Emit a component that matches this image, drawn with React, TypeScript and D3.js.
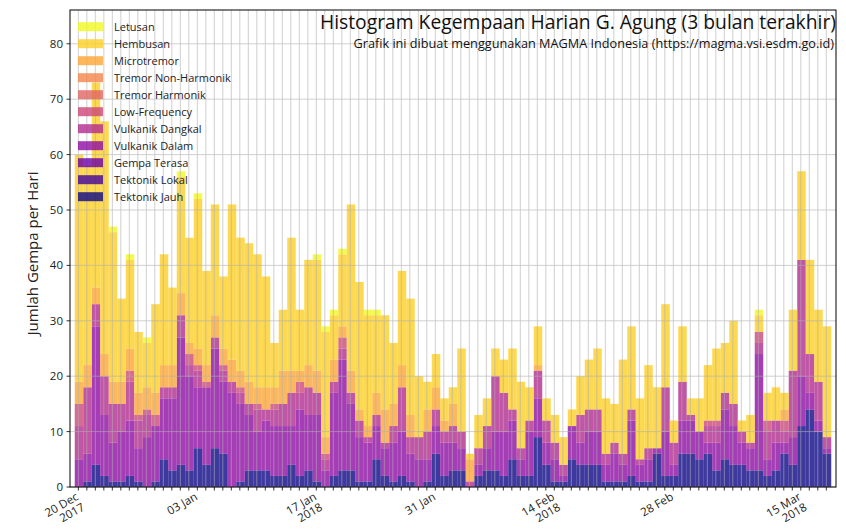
import * as d3 from 'd3'

// daily counts, 20 Dec 2017 .. 18 Mar 2018
const startDate = new Date(2017, 11, 20)
const dayCount = 89

const tektonikJauh = [0,1,4,2,1,1,2,1,0,1,5,3,4,3,7,4,7,6,0,1,3,3,3,2,2,4,2,3,1,0,2,3,3,1,1,5,2,1,2,1,0,1,6,2,3,3,0,2,3,3,2,5,2,2,9,4,1,1,5,4,4,4,1,1,1,2,1,1,6,2,2,6,6,5,6,3,5,4,4,3,3,2,3,6,4,11,14,10,6]
const vulkanikDalam = [5,5,25,11,7,9,10,6,9,10,11,13,23,17,11,14,18,13,17,14,10,7,9,9,9,7,12,10,12,3,15,20,12,8,7,6,5,7,8,5,5,4,5,6,5,4,0,2,4,7,8,7,3,8,7,4,4,1,6,4,6,6,3,5,3,10,3,4,1,8,2,6,6,5,2,5,9,7,4,4,21,3,5,2,5,9,3,2,1]
const vulkanikDangkal = [6,12,4,7,7,5,7,5,4,0,2,2,4,2,3,0,2,2,2,2,2,4,2,3,4,6,3,5,4,2,2,2,2,3,1,2,1,3,8,3,4,5,3,2,3,3,1,3,4,10,7,2,2,2,5,4,3,2,0,5,4,4,2,2,2,2,1,2,0,8,4,7,1,0,3,3,3,4,2,1,2,5,4,2,12,21,7,7,2]
const lowFrequency = [4,0,0,0,0,0,2,1,1,2,0,0,0,2,1,1,0,1,0,1,0,1,0,1,0,0,2,0,0,1,0,2,0,0,0,0,0,0,0,0,0,0,0,0,0,0,0,0,0,0,0,0,0,0,0,0,0,0,0,0,0,0,0,0,0,0,0,0,0,0,0,0,0,0,1,1,0,0,0,0,2,2,0,2,0,0,0,0,0]
const microtremor = [4,4,3,4,4,4,4,4,4,4,4,4,4,2,3,3,4,3,4,3,4,3,4,3,6,4,2,4,4,3,4,2,4,2,2,4,6,4,4,4,0,4,4,2,4,0,4,0,0,0,0,0,0,0,1,0,0,0,0,0,0,0,0,0,0,0,0,0,0,0,0,0,0,0,0,0,0,0,0,0,0,0,0,2,0,0,0,0,0]
const hembusan = [41,36,37,42,27,15,16,11,8,16,20,14,21,19,27,17,20,13,28,24,25,24,20,8,11,24,11,19,20,19,8,13,30,23,20,14,17,11,17,21,11,5,6,4,3,15,1,6,5,5,6,11,12,6,7,4,5,5,3,7,9,11,10,7,17,15,11,15,11,15,4,10,3,6,10,13,9,15,2,5,3,5,6,3,11,16,17,13,20]
const letusan = [0,0,0,0,1,0,1,0,1,0,0,0,1,0,1,0,0,0,0,0,0,0,0,0,0,0,0,0,1,1,1,1,0,0,1,1,0,0,0,0,0,0,0,0,0,0,0,0,0,0,0,0,0,0,0,0,0,0,0,0,0,0,0,0,0,0,0,0,0,0,0,0,0,0,0,0,0,0,0,0,1,0,0,0,0,0,0,0,0]

// stacking order bottom -> top, with position in the plasma colormap
const stackSeries = [
  { key: 'Tektonik Jauh', t: 0.0, values: tektonikJauh },
  { key: 'Vulkanik Dalam', t: 0.3, values: vulkanikDalam },
  { key: 'Vulkanik Dangkal', t: 0.4, values: vulkanikDangkal },
  { key: 'Low-Frequency', t: 0.5, values: lowFrequency },
  { key: 'Microtremor', t: 0.8, values: microtremor },
  { key: 'Hembusan', t: 0.9, values: hembusan },
  { key: 'Letusan', t: 1.0, values: letusan },
]

const legendNames = ['Letusan','Hembusan','Microtremor','Tremor Non-Harmonik','Tremor Harmonik','Low-Frequency','Vulkanik Dangkal','Vulkanik Dalam','Gempa Terasa','Tektonik Lokal','Tektonik Jauh']

const majorTicks = [
  { date: new Date(2017, 11, 20), label: ['20 Dec', '2017'] },
  { date: new Date(2018, 0, 3), label: ['03 Jan'] },
  { date: new Date(2018, 0, 17), label: ['17 Jan', '2018'] },
  { date: new Date(2018, 0, 31), label: ['31 Jan'] },
  { date: new Date(2018, 1, 14), label: ['14 Feb', '2018'] },
  { date: new Date(2018, 1, 28), label: ['28 Feb'] },
  { date: new Date(2018, 2, 15), label: ['15 Mar', '2018'] },
]
const yTicks = [0, 10, 20, 30, 40, 50, 60, 70, 80]

const W = 846
const H = 529
const plot = { left: 70, top: 10, right: 836, bottom: 487 }
const font = '"Open Sans", "Noto Sans", sans-serif'
const DAY = 864e5

export default function App() {
  const days = d3.range(dayCount).map(i => d3.timeDay.offset(startDate, i))
  const x = d3.scaleTime()
    .domain([new Date(+startDate - 0.98 * DAY), new Date(+startDate + 89.14 * DAY)])
    .range([plot.left, plot.right])
  const y = d3.scaleLinear().domain([0, 86.1]).range([plot.bottom, plot.top])

  const rows = days.map((d, i) => {
    const r: Record<string, number> = {}
    stackSeries.forEach(s => { r[s.key] = s.values[i] ?? 0 })
    return r
  })
  const stacked = d3.stack<Record<string, number>>().keys(stackSeries.map(s => s.key))(rows)
  const color = (t: number) => d3.interpolatePlasma(t)
  const legendColor = (k: number) => color(1 - k / 10)

  return (
    <div style={{ position: 'fixed', left: 0, top: 0 }}>
      <svg width={W} height={H} style={{ display: 'block', background: '#fff' }} fontFamily={font}>
        {stacked.map((layer, li) => (
          <g key={layer.key} fill={color(stackSeries[li].t)} fillOpacity={0.8}>
            {layer.map((seg, i) => seg[1] > seg[0] ? (
              <rect
                key={i}
                x={x(new Date(+days[i] - 0.42 * DAY))}
                width={x(new Date(+days[i] + 0.58 * DAY)) - x(new Date(+days[i] - 0.42 * DAY))}
                y={y(seg[1])}
                height={y(seg[0]) - y(seg[1])}
              />
            ) : null)}
          </g>
        ))}

        {/* grid on top of the bars */}
        <g stroke="#b0b0b0" strokeWidth={0.8} opacity={0.75}>
          {days.map((d, i) => (
            <line key={'v' + i} x1={x(d)} x2={x(d)} y1={plot.top} y2={plot.bottom} />
          ))}
          {yTicks.map(v => (
            <line key={'h' + v} x1={plot.left} x2={plot.right} y1={y(v)} y2={y(v)} />
          ))}
        </g>

        <rect x={plot.left} y={plot.top} width={plot.right - plot.left} height={plot.bottom - plot.top}
          fill="none" stroke="#000" strokeWidth={1} />

        {/* x ticks */}
        <g stroke="#000" strokeWidth={0.8}>
          {days.map((d, i) => (
            <line key={i} x1={x(d)} x2={x(d)} y1={plot.bottom} y2={plot.bottom + 3.5} />
          ))}
        </g>
        {majorTicks.map(t => (
          <text key={t.label[0]} fontSize={11.5} fill="#222" textAnchor="end"
            transform={`translate(${x(t.date) + 1},${plot.bottom + 12}) rotate(-30)`}>
            {t.label.map((l, j) => (
              <tspan key={j} x={0} dy={j === 0 ? 0 : 12}>{l}</tspan>
            ))}
          </text>
        ))}

        {/* y ticks */}
        {yTicks.map(v => (
          <g key={v} transform={`translate(${plot.left},${y(v)})`}>
            <line x1={-3.5} x2={0} stroke="#000" strokeWidth={0.8} />
            <text x={-7} dy="0.35em" fontSize={11.5} textAnchor="end" fill="#222">{v}</text>
          </g>
        ))}
        <text transform={`translate(38,${(plot.top + plot.bottom) / 2 + 5}) rotate(-90)`}
          textAnchor="middle" fontSize={15} fill="#222">Jumlah Gempa per Hari</text>

        {/* legend */}
        {legendNames.map((name, k) => (
          <g key={name} transform={`translate(78,${26.7 + 17 * k})`}>
            <rect x={0} y={-4.5} width={25} height={9} fill={legendColor(k)} fillOpacity={0.8} />
            <text x={36} dy="0.35em" fontSize={11} fill="#222">{name}</text>
          </g>
        ))}

        {/* titles */}
        <text x={836} y={29} textAnchor="end" fontSize={19.3} fill="#111">Histogram Kegempaan Harian G. Agung (3 bulan terakhir)</text>
        <text x={834} y={48} textAnchor="end" fontSize={12.7} fill="#111">Grafik ini dibuat menggunakan MAGMA Indonesia (https://magma.vsi.esdm.go.id)</text>
      </svg>
    </div>
  )
}
